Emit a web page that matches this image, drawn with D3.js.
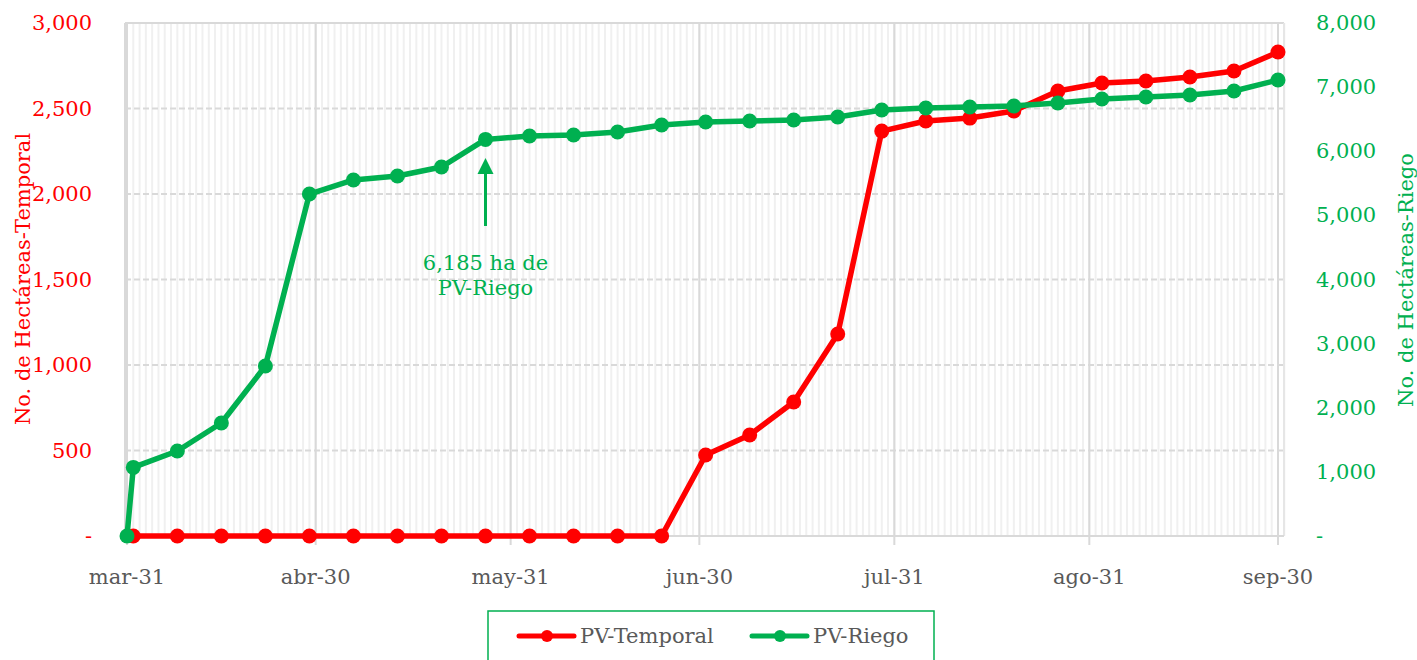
<!DOCTYPE html>
<html><head><meta charset="utf-8">
<script src="https://cdn.jsdelivr.net/npm/d3@7"></script>
<style>body{margin:0;background:#fff}svg{display:block}text{font-family:"DejaVu Serif",serif}</style>
</head><body><svg id="c" width="1417" height="660"></svg>
<script>
const dates = ["2023-04-01","2023-04-08","2023-04-15","2023-04-22","2023-04-29","2023-05-06","2023-05-13","2023-05-20","2023-05-27","2023-06-03","2023-06-10","2023-06-17","2023-06-24","2023-07-01","2023-07-08","2023-07-15","2023-07-22","2023-07-29","2023-08-05","2023-08-12","2023-08-19","2023-08-26","2023-09-02","2023-09-09","2023-09-16","2023-09-23","2023-09-30"];
const temporal = [0,0,0,0,0,0,0,0,0,0,0,0,0,474,591,784,1181,2368,2427,2444,2485,2602,2649,2661,2684,2719,2830];
const riegoDates = ["2023-03-31"].concat(dates);
const riego = [0,1070,1326,1762,2651,5333,5552,5614,5754,6185,6238,6253,6300,6409,6456,6472,6487,6534,6643,6674,6690,6706,6752,6815,6846,6877,6940,7111];
const monthTicks = ["2023-03-31","2023-04-30","2023-05-31","2023-06-30","2023-07-31","2023-08-31","2023-09-30"];
const monthLabels = ["mar-31","abr-30","may-31","jun-30","jul-31","ago-31","sep-30"];
const leftTicks = [0,500,1000,1500,2000,2500,3000];
const rightTicks = [0,1000,2000,3000,4000,5000,6000,7000,8000];
const annotation = ["6,185 ha de","PV-Riego"];
const seriesNames = ["PV-Temporal","PV-Riego"];

const RED="#ff0000", GREEN="#00b050";
const FS = 21;
const p = d3.timeParse("%Y-%m-%d");
const svg = d3.select("#c");
const L=125, R=1284, T=23, B=536;
const x = d3.scaleTime().domain([p("2023-03-31"), p("2023-09-30")]).range([127,1278]);
const yl = d3.scaleLinear().domain([0,3000]).range([B,T]);
const yr = d3.scaleLinear().domain([0,8000]).range([B,T]);
const fmt = v => v===0 ? "-" : d3.format(",")(v);

// minor daily gridlines
const days = d3.timeDay.range(p("2023-03-31"), d3.timeDay.offset(p("2023-09-30"),2));
svg.append("g").selectAll("line").data(days).join("line")
  .attr("x1",d=>x(d)).attr("x2",d=>x(d)).attr("y1",T).attr("y2",B)
  .attr("stroke","#f0f0f0").attr("stroke-width",2);
// horizontal dashed grid
svg.append("g").selectAll("line").data(leftTicks.slice(1,-1)).join("line")
  .attr("x1",L).attr("x2",R).attr("y1",d=>yl(d)).attr("y2",d=>yl(d))
  .attr("stroke","#d9d9d9").attr("stroke-width",2).attr("stroke-dasharray","6,3");
svg.append("line").attr("x1",L).attr("x2",R).attr("y1",T).attr("y2",T).attr("stroke","#d9d9d9").attr("stroke-width",2);
svg.append("line").attr("x1",R).attr("x2",R).attr("y1",T).attr("y2",B).attr("stroke","#e6e6e6").attr("stroke-width",2);
// major month gridlines
svg.append("g").selectAll("line").data(monthTicks).join("line")
  .attr("x1",d=>x(p(d))).attr("x2",d=>x(p(d))).attr("y1",T).attr("y2",B+9)
  .attr("stroke","#d9d9d9").attr("stroke-width",2);
svg.append("line").attr("x1",L).attr("x2",R).attr("y1",B).attr("y2",B).attr("stroke","#d9d9d9").attr("stroke-width",2);
svg.append("line").attr("x1",L).attr("x2",L).attr("y1",T).attr("y2",B).attr("stroke","#d9d9d9").attr("stroke-width",2);

// x labels
svg.append("g").selectAll("text").data(monthTicks).join("text")
  .attr("x",d=>x(p(d))).attr("y",584).attr("text-anchor","middle")
  .attr("fill","#595959").attr("font-size",FS).text((d,i)=>monthLabels[i]);
// left labels
svg.append("g").selectAll("text").data(leftTicks).join("text")
  .attr("x",92).attr("y",d=>yl(d)+7).attr("text-anchor","end")
  .attr("fill",RED).attr("font-size",FS).text(fmt);
svg.append("g").selectAll("text").data(rightTicks).join("text")
  .attr("x",1316).attr("y",d=>yr(d)+7).attr("text-anchor","start")
  .attr("fill",GREEN).attr("font-size",FS).text(fmt);
svg.append("text").attr("transform","translate(30,279) rotate(-90)").attr("text-anchor","middle")
  .attr("fill",RED).attr("font-size",FS).text("No. de Hectáreas-Temporal");
svg.append("text").attr("transform","translate(1413,280) rotate(-90)").attr("text-anchor","middle")
  .attr("fill",GREEN).attr("font-size",FS).text("No. de Hectáreas-Riego");

// lines
const lt = d3.line().x((d,i)=>x(p(dates[i]))).y(d=>yl(d));
const lr = d3.line().x((d,i)=>x(p(riegoDates[i]))).y(d=>yr(d));
svg.append("path").attr("d",lt(temporal)).attr("fill","none").attr("stroke",RED).attr("stroke-width",5.5).attr("stroke-linejoin","round");
svg.append("g").selectAll("circle").data(temporal).join("circle")
  .attr("cx",(d,i)=>x(p(dates[i]))).attr("cy",d=>yl(d)).attr("r",7.5).attr("fill",RED);
svg.append("path").attr("d",lr(riego)).attr("fill","none").attr("stroke",GREEN).attr("stroke-width",5.5).attr("stroke-linejoin","round");
svg.append("g").selectAll("circle").data(riego).join("circle")
  .attr("cx",(d,i)=>x(p(riegoDates[i]))).attr("cy",d=>yr(d)).attr("r",7.5).attr("fill",GREEN);

// annotation arrow
const ax = x(p(dates[8]));
svg.append("line").attr("x1",ax).attr("x2",ax).attr("y1",226).attr("y2",172).attr("stroke",GREEN).attr("stroke-width",3);
svg.append("path").attr("d",`M${ax-8},174 L${ax},158 L${ax+8},174 Z`).attr("fill",GREEN);
svg.append("g").selectAll("text").data(annotation).join("text")
  .attr("x",ax).attr("y",(d,i)=>270+i*25).attr("text-anchor","middle")
  .attr("fill",GREEN).attr("font-size",FS).text(d=>d);

// legend
svg.append("rect").attr("x",488).attr("y",611).attr("width",446).attr("height",60)
  .attr("fill","#fff").attr("stroke",GREEN).attr("stroke-width",1.5);
const lg = [{c:RED,x:519,t:seriesNames[0]},{c:GREEN,x:752,t:seriesNames[1]}];
lg.forEach(o=>{
  svg.append("line").attr("x1",o.x).attr("x2",o.x+55).attr("y1",636).attr("y2",636).attr("stroke",o.c).attr("stroke-width",5).attr("stroke-linecap","round");
  svg.append("circle").attr("cx",o.x+28).attr("cy",636).attr("r",6).attr("fill",o.c);
  svg.append("text").attr("x",o.x+61).attr("y",643).attr("fill","#595959").attr("font-size",FS).text(o.t);
});
</script></body></html>
